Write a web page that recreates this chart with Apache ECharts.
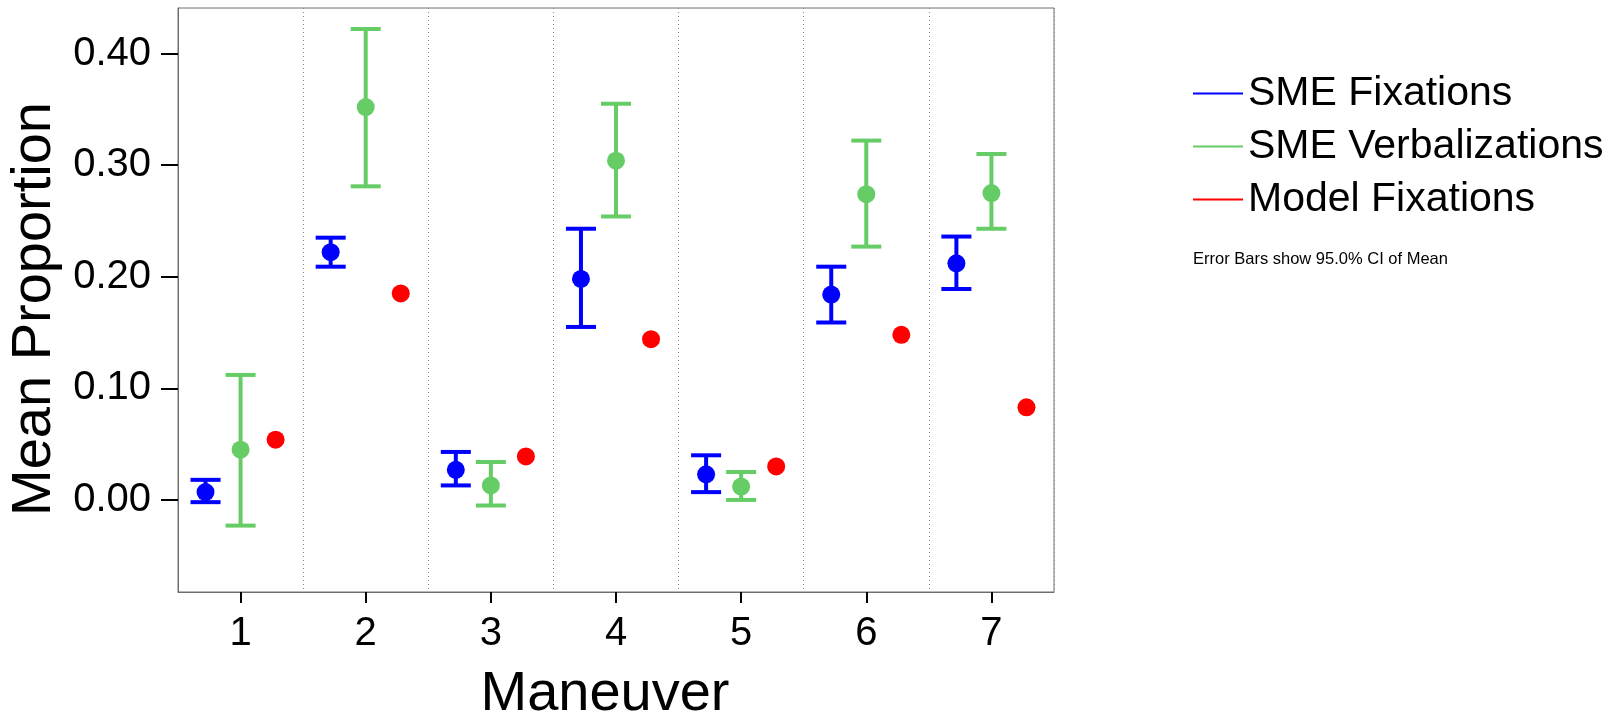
<!DOCTYPE html>
<html>
<head>
<meta charset="utf-8">
<script src="https://cdn.jsdelivr.net/npm/echarts@6/dist/echarts.min.js"></script>
<style>
  html, body { margin: 0; padding: 0; background: #fff; }
  #chart { width: 1616px; height: 716px; }
</style>
</head>
<body>
<div id="chart"></div>
<script>
// data
const maneuvers = ['1', '2', '3', '4', '5', '6', '7']
const yTicks = [0, 0.1, 0.2, 0.3, 0.4]

const smeFixMean = [0.007, 0.222, 0.027, 0.198, 0.023, 0.184, 0.212]
const smeFixLow = [-0.002, 0.209, 0.013, 0.155, 0.007, 0.159, 0.189]
const smeFixHigh = [0.018, 0.235, 0.043, 0.243, 0.040, 0.209, 0.236]

const smeVerbMean = [0.045, 0.352, 0.013, 0.304, 0.012, 0.274, 0.275]
const smeVerbLow = [-0.023, 0.281, -0.005, 0.254, 0.000, 0.227, 0.243]
const smeVerbHigh = [0.112, 0.422, 0.034, 0.355, 0.025, 0.322, 0.310]

const modelFixMean = [0.054, 0.185, 0.039, 0.144, 0.030, 0.148, 0.083]

const font = 'Arial, "Liberation Sans", Helvetica, sans-serif'

function rows (mean, low, high) {
  return mean.map((m, i) => [i, low ? low[i] : m, high ? high[i] : m, m])
}

// shift = offset of the series inside the category band (fraction of band width)
function errRender (shift, color, withBar) {
  return function (params, api) {
    const bw = api.size([1, 0])[0]
    const off = bw * shift
    const half = bw * 0.12
    const pm = api.coord([api.value(0), api.value(3)])
    const x = pm[0] + off
    const children = []
    if (withBar) {
      const lo = api.coord([api.value(0), api.value(1)])[1]
      const hi = api.coord([api.value(0), api.value(2)])[1]
      const st = { stroke: color, lineWidth: 4 }
      children.push({ type: 'line', shape: { x1: x, y1: lo, x2: x, y2: hi }, style: st })
      children.push({ type: 'line', shape: { x1: x - half, y1: lo, x2: x + half, y2: lo }, style: st })
      children.push({ type: 'line', shape: { x1: x - half, y1: hi, x2: x + half, y2: hi }, style: st })
    }
    children.push({ type: 'circle', shape: { cx: x, cy: pm[1], r: 9 }, style: { fill: color } })
    return { type: 'group', children: children }
  }
}

const blue = '#0000ff'
const green = '#66cc66'
const red = '#ff0000'

const option = {
  backgroundColor: '#fff',
  animation: false,
  grid: {
    left: 178,
    right: 562,
    top: 8,
    bottom: 124,
    outerBoundsMode: 'none',
    containLabel: false,
    show: true,
    borderColor: '#6e6e6e',
    borderWidth: 1,
    backgroundColor: '#fff'
  },
  legend: {
    orient: 'vertical',
    left: 1188,
    top: 68,
    itemWidth: 50,
    itemHeight: 2,
    itemGap: 12,
    icon: 'rect',
    textStyle: { fontFamily: font, fontSize: 41, color: '#000', lineHeight: 40 },
    data: ['SME Fixations', 'SME Verbalizations', 'Model Fixations']
  },
  graphic: [{
    type: 'text',
    left: 1193,
    top: 251,
    style: { text: 'Error Bars show 95.0% CI of Mean', font: '16.5px ' + font, fill: '#000' }
  }],
  xAxis: {
    type: 'category',
    data: maneuvers,
    boundaryGap: true,
    name: 'Maneuver',
    nameLocation: 'middle',
    nameGap: 75,
    nameTextStyle: { fontFamily: font, fontSize: 56, color: '#000', padding: [0, 22, 0, 0] },
    axisLine: { show: true, onZero: false, lineStyle: { color: '#6e6e6e', width: 1 } },
    axisTick: { show: true, alignWithLabel: true, length: 11, lineStyle: { color: '#000', width: 2 } },
    axisLabel: { margin: 22, fontFamily: font, fontSize: 40, color: '#000' },
    splitLine: { show: true, lineStyle: { type: [1, 3], color: '#888', width: 1 } }
  },
  yAxis: {
    type: 'value',
    min: -0.0825,
    max: 0.4408,
    name: 'Mean Proportion',
    nameLocation: 'middle',
    nameGap: 111,
    nameTextStyle: { fontFamily: font, fontSize: 56, color: '#000', padding: [0, 18, 0, 0] },
    axisLine: { show: true, lineStyle: { color: '#6e6e6e', width: 1 } },
    splitLine: { show: false },
    axisTick: { show: true, length: 17, customValues: yTicks, lineStyle: { color: '#000', width: 2 } },
    axisLabel: {
      customValues: yTicks,
      margin: 27,
      fontFamily: font,
      fontSize: 40,
      color: '#000',
      formatter: v => v.toFixed(2)
    }
  },
  series: [
    {
      name: 'SME Fixations',
      type: 'custom',
      itemStyle: { color: blue },
      encode: { x: 0, y: [1, 2, 3] },
      renderItem: errRender(-0.28, blue, true),
      data: rows(smeFixMean, smeFixLow, smeFixHigh)
    },
    {
      name: 'SME Verbalizations',
      type: 'custom',
      itemStyle: { color: green },
      encode: { x: 0, y: [1, 2, 3] },
      renderItem: errRender(0, green, true),
      data: rows(smeVerbMean, smeVerbLow, smeVerbHigh)
    },
    {
      name: 'Model Fixations',
      type: 'custom',
      itemStyle: { color: red },
      encode: { x: 0, y: [1, 2, 3] },
      renderItem: errRender(0.28, red, false),
      data: rows(modelFixMean)
    }
  ]
}

const myChart = echarts.init(document.getElementById('chart'))
myChart.setOption(option)
</script>
</body>
</html>
